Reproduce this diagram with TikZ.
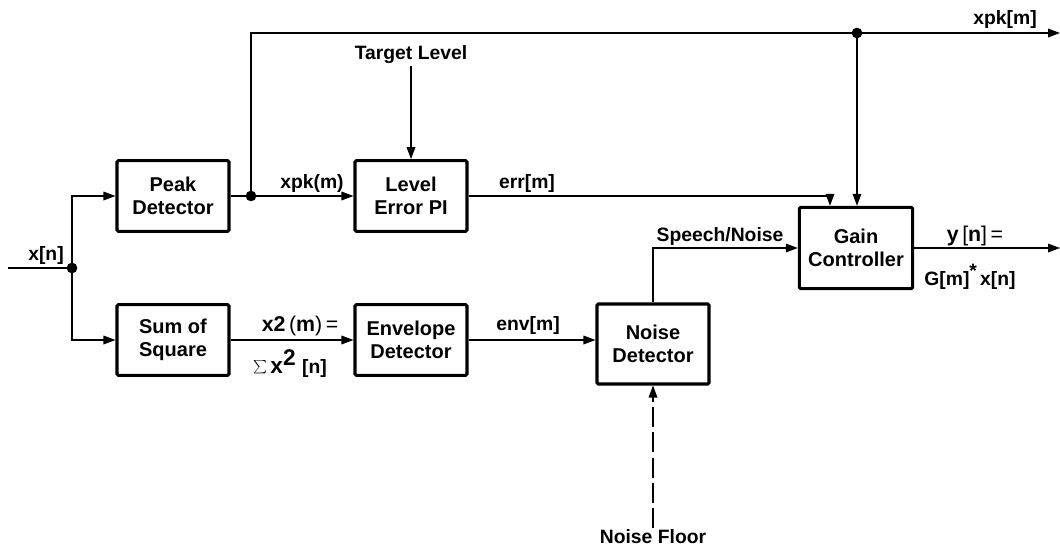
\documentclass[tikz,border=0pt]{standalone}
\usepackage{fontspec}
\setmainfont{Liberation Sans}
\usetikzlibrary{arrows.meta, positioning}
\tikzset{
  block/.style={draw, line width=2.3pt, rounded corners=1pt, align=center,
    minimum width=84pt, minimum height=53pt, font=\fontsize{15}{17}\selectfont\bfseries},
  sig/.style={line width=0.9pt},
  arr/.style={sig, -{Triangle[length=9pt, width=6.5pt]}},
  lbl/.style={inner sep=1pt, font=\fontsize{14.5}{17}\selectfont\bfseries},
  dot/.style={circle, fill, inner sep=0pt, minimum size=8pt}
}
\begin{document}
\begin{tikzpicture}[x=0.75pt, y=-0.75pt]
\useasboundingbox (0,0) rectangle (1060,546);
% Blocks
\node[block] (peak) at (173,196) {Peak\\Detector};
\node[block] (level) at (411,196) {Level\\Error PI};
\node[block] (sum) at (173,340) {Sum of\\Square};
\node[block] (env) at (411,340) {Envelope\\Detector};
\node[block, minimum height=60pt] (noise) at (653,344) {Noise\\Detector};
\node[block, minimum width=85pt, minimum height=61pt] (gain) at (856,248) {Gain\\Controller};
% Points
\coordinate (in) at (8,268);
\coordinate (split) at (72,268);
\coordinate (pkdot) at (251,196);
\coordinate (gdot) at (857,33);
\coordinate (xpkout) at (1060,33);
\coordinate (errin) at (830,160);
\coordinate (yout) at (1060,248);
% Input
\draw[sig] (in) -- (split);
\draw[arr] (split) |- (peak.west);
\draw[arr] (split) |- (sum.west);
\node[dot] at (split) {};
\node[lbl] (xn) at (46,255) {x[n]};
% Peak path
\draw[arr] (peak.east) -- (level.west);
\node[dot] at (pkdot) {};
\node[lbl] (xpkm) at (312,183) {xpk(m)};
\draw[arr] (pkdot) |- (xpkout);
\node[dot] at (gdot) {};
\draw[arr] (gdot) -- (gdot |- gain.north);
\node[lbl] (xpkM) at (1005,20) {xpk[m]};
% Target level
\node[lbl] (target) at (411,55) {Target Level};
\draw[arr] (target.south) -- (level.north);
% Error
\draw[arr] (level.east) -| (errin |- gain.north);
\node[lbl] (err) at (527,183) {err[m]};
% Lower path
\draw[arr] (sum.east) -- (env.west);
\node[lbl, font=\fontsize{16}{18}\selectfont\bfseries] (x2) at (300,326) {x2\,{\mdseries(}m{\mdseries)}\,{\mdseries=}};
\node[lbl] (sumx) at (290,364) {{\mdseries\fontsize{20}{20}\selectfont$\sum$}\,{\fontsize{17}{17}\selectfont x\raisebox{6pt}{2}}\,\,[n]};
\draw[arr] (env.east) -- (noise.west |- env.east);
\node[lbl] (envm) at (528,325) {env[m]};
% Speech/noise
\draw[arr] (noise.north) |- (gain.west);
\node[lbl] (sn) at (720,236) {Speech/Noise};
% Noise floor
\node[lbl] (floor) at (653,537) {Noise Floor};
\draw[arr, dash pattern=on 15pt off 4pt] (floor.north) -- (noise.south);
% Output
\draw[arr] (gain.east) -- (yout);
\node[lbl, font=\fontsize{16}{18}\selectfont\bfseries] (yn) at (975,236) {y\,{\mdseries[}n{\mdseries]}\,{\mdseries=}};
\node[lbl] (gx) at (970,277) {G[m]\raisebox{6pt}{*}\,x[n]};
\end{tikzpicture}
\end{document}
